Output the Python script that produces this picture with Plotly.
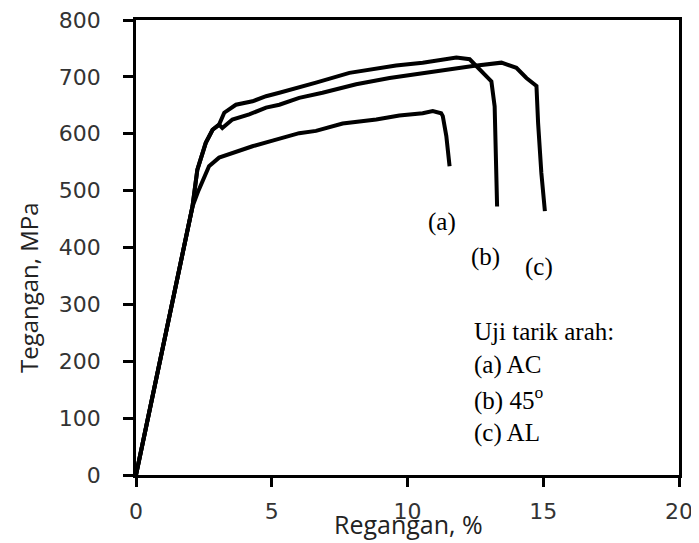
import plotly.graph_objects as go

# Strain (%) and stress (MPa)
strain_a = [0, 1.03, 2.08, 2.3, 2.69, 3.06, 3.55, 4.29, 5.03, 5.65, 6.01, 6.63, 7.61, 8.85, 9.70, 10.56, 10.93, 11.24, 11.30, 11.43, 11.55]
stress_a = [0, 238, 472, 500, 543, 558, 566, 578, 588, 596, 601, 605, 618, 625, 632, 636, 640, 636, 631, 596, 543]

strain_b = [0, 1.03, 2.08, 2.26, 2.57, 2.82, 3.06, 3.25, 3.68, 4.29, 4.79, 5.28, 6.01, 6.63, 7.86, 8.85, 9.58, 10.56, 11.55, 11.80, 12.29, 12.66, 13.09, 13.21, 13.27, 13.30]
stress_b = [0, 238, 472, 537, 584, 607, 616, 637, 651, 657, 666, 672, 681, 690, 707, 714, 720, 725, 733, 734, 731, 713, 692, 648, 560, 472]

strain_c = [0, 1.03, 2.08, 2.26, 2.57, 2.82, 3.06, 3.18, 3.55, 4.17, 4.79, 5.28, 6.01, 6.87, 8.11, 9.34, 10.56, 11.55, 12.41, 13.46, 14.01, 14.38, 14.75, 14.81, 14.93, 15.06]
stress_c = [0, 238, 472, 537, 584, 607, 616, 610, 625, 634, 646, 651, 663, 672, 687, 698, 707, 713, 719, 725, 716, 698, 684, 619, 531, 464]

curve_labels = ["(a)", "(b)", "(c)"]
legend_lines = ["Uji tarik arah:", "(a) AC", "(b) 45<sup>o</sup>", "(c) AL"]
x_title = "Regangan, %"
y_title = "Tegangan, MPa"

x_ticks = [0, 5, 10, 15, 20]
y_ticks = [0, 100, 200, 300, 400, 500, 600, 700, 800]

fig = go.Figure()
for xs, ys in [(strain_a, stress_a), (strain_b, stress_b), (strain_c, stress_c)]:
    fig.add_trace(go.Scatter(x=xs, y=ys, mode="lines",
                             line=dict(color="black", width=4),
                             showlegend=False, hoverinfo="skip"))

serif = dict(family="Liberation Serif, Times New Roman, serif", size=25, color="black")

label_pos = [(11.26, 445), (12.89, 384), (14.85, 366)]
for txt, (lx, ly) in zip(curve_labels, label_pos):
    fig.add_annotation(x=lx, y=ly, text=txt, showarrow=False, font=serif,
                       xanchor="center", yanchor="middle")

legend_y = [252, 193, 135, 73]
for txt, ly in zip(legend_lines, legend_y):
    fig.add_annotation(x=12.36, y=ly, text=txt, showarrow=False, font=serif,
                       xanchor="left", yanchor="middle")

# Axis titles
fig.add_annotation(xref="paper", yref="paper", x=0.501, y=-0.108, text=x_title,
                   showarrow=False, xanchor="center", yanchor="middle",
                   font=dict(family="Open Sans", size=25, color="#222222"))
fig.add_annotation(xref="paper", yref="paper", x=-0.199, y=0.413, text=y_title,
                   showarrow=False, xanchor="center", yanchor="middle", textangle=-90,
                   font=dict(family="Open Sans", size=24, color="#222222"))

tick_font = dict(family="DejaVu Sans", size=22, color="#333333")

# margins compensate for the page's 8px body margin
fig.update_layout(
    width=699, height=543,
    margin=dict(l=128, r=28, t=12, b=76, autoexpand=False),
    paper_bgcolor="white", plot_bgcolor="white",
    xaxis=dict(range=[0, 20], tickvals=x_ticks, showgrid=False, zeroline=False,
               showline=True, linecolor="black", linewidth=2.5, mirror=True,
               ticks="outside", ticklen=9, tickwidth=2.5, tickcolor="black",
               tickfont=tick_font, ticklabelstandoff=6, automargin=False,
               ticklabeloverflow="allow"),
    yaxis=dict(range=[0, 800], tickvals=y_ticks, showgrid=False, zeroline=False,
               showline=True, linecolor="black", linewidth=2.5, mirror=True,
               ticks="outside", ticklen=10, tickwidth=2.5, tickcolor="black",
               tickfont=tick_font, ticklabelstandoff=18, automargin=False,
               ticklabeloverflow="allow"),
)

fig.write_html("out.html")
